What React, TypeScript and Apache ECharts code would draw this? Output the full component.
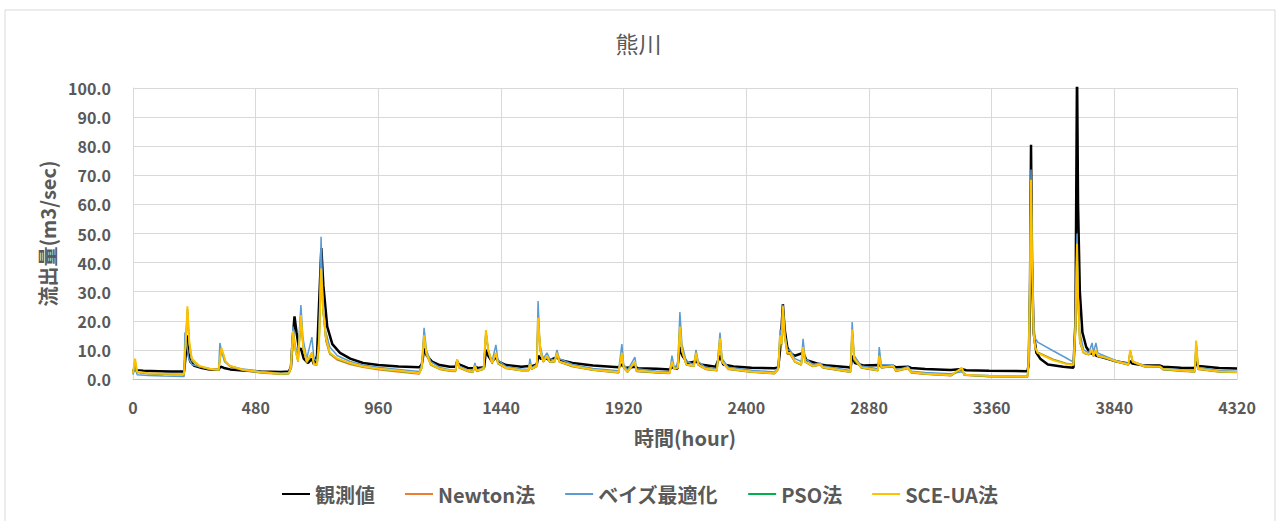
import React, { useEffect, useRef } from "react";
import * as echarts from "echarts";

const titleText = "熊川";
const xAxisName = "時間(hour)";
const yAxisName = "流出量(m3/sec)";
const seriesNames = ["観測値", "Newton法", "ベイズ最適化", "PSO法", "SCE-UA法"];
const seriesColors = ["#000000", "#ED7D31", "#5B9BD5", "#00B050", "#FFC000"];
const seriesWidths = [2.5, 1.5, 1.5, 1.5, 2];

// [hour, m3/sec]
const observed: [number, number][] = [
  [0, 2.5], [6, 3.5], [12, 3.0], [40, 2.8], [100, 2.7], [150, 2.6], [200, 2.6], [206, 8], [211, 15], [216, 9], [224, 6], [240, 4.5], [270, 3.8], [300, 3.3], [335, 3.2], [340, 4], [346, 4.2], [356, 3.8], [380, 3.3], [430, 2.9], [500, 2.6], [580, 2.4], [610, 2.6], [618, 4], [625, 14], [632, 21.5], [640, 16], [650, 10], [657, 10.5], [668, 7], [685, 5.5], [700, 7], [708, 5], [720, 8], [730, 30], [737, 45], [745, 32], [760, 18], [780, 12], [810, 9], [850, 7], [900, 5.5], [960, 4.8], [1040, 4.3], [1120, 4.0], [1130, 5], [1140, 10.5], [1150, 8], [1170, 6], [1200, 4.8], [1240, 4.2], [1262, 4.2], [1268, 6], [1276, 5], [1310, 3.8], [1336, 3.7], [1340, 4.2], [1350, 3.8], [1374, 4], [1381, 10], [1390, 8], [1405, 6], [1420, 7.5], [1430, 6], [1460, 4.8], [1520, 4.2], [1550, 4.5], [1556, 4.2], [1580, 5], [1586, 8], [1595, 7], [1620, 7], [1630, 6.5], [1659, 7.5], [1670, 6.5], [1720, 5.5], [1800, 4.6], [1900, 4.0], [1913, 5], [1925, 3.8], [1964, 4.2], [1975, 3.7], [2050, 3.5], [2100, 3.3], [2109, 4], [2130, 3.5], [2140, 11], [2150, 8], [2170, 5.5], [2203, 6], [2220, 5], [2280, 4.2], [2297, 8], [2310, 5], [2350, 4.3], [2420, 3.9], [2510, 3.7], [2525, 4], [2532, 10], [2538, 18], [2543, 25.7], [2550, 17], [2560, 11], [2571, 9], [2590, 8], [2622, 9], [2635, 6.5], [2689, 5], [2720, 4.6], [2800, 4.0], [2808, 3.8], [2814, 8], [2825, 5.5], [2860, 4.6], [2920, 4.8], [2930, 4.2], [2975, 4.5], [2985, 4.0], [3033, 4.2], [3045, 3.8], [3100, 3.4], [3200, 3.1], [3244, 3.4], [3260, 3.0], [3350, 2.8], [3500, 2.7], [3505, 5], [3510, 30], [3514, 80.5], [3518, 40], [3524, 16], [3535, 9], [3550, 7], [3580, 5], [3640, 4.2], [3680, 3.9], [3688, 20], [3694, 108], [3698, 60], [3705, 30], [3715, 16], [3730, 11], [3745, 9], [3770, 8], [3800, 7.3], [3850, 6], [3895, 5.3], [3902, 6.2], [3910, 5.3], [3960, 4.6], [4019, 4.6], [4030, 4.2], [4100, 3.9], [4155, 3.8], [4160, 6], [4168, 4.5], [4250, 3.8], [4320, 3.6]
];

const newton: [number, number][] = [
  [0, 1.8], [8, 6], [16, 2.2], [60, 1.8], [120, 1.6], [200, 1.5], [203, 8], [206, 12], [213, 23], [220, 12], [230, 6.5], [260, 4.2], [300, 3.3], [335, 3.0], [340, 6], [346, 10], [352, 8.5], [362, 5.8], [380, 4.2], [430, 3.0], [500, 2.1], [580, 1.6], [610, 1.8], [618, 3.5], [626, 15], [634, 11], [646, 6], [657, 21], [666, 10.5], [680, 5.5], [700, 9], [708, 5], [720, 4.8], [728, 11], [736, 37], [744, 23], [755, 13], [770, 8.5], [800, 6.5], [850, 5], [900, 4.0], [960, 3.2], [1040, 2.4], [1120, 1.7], [1130, 3.8], [1139, 14.5], [1148, 8.5], [1165, 4.8], [1200, 3.3], [1240, 2.7], [1262, 2.6], [1268, 6.5], [1276, 3.8], [1310, 2.6], [1330, 2.3], [1338, 4.3], [1345, 2.6], [1372, 3.3], [1381, 16], [1390, 9.5], [1405, 5.2], [1420, 8.5], [1428, 5.2], [1460, 3.6], [1520, 2.8], [1548, 2.8], [1553, 4.8], [1560, 3.3], [1580, 4.3], [1585, 20], [1594, 9.5], [1605, 5.8], [1620, 7.5], [1630, 5.8], [1650, 5.8], [1659, 8.5], [1668, 5.8], [1720, 4.2], [1800, 3.0], [1900, 2.1], [1913, 8.5], [1920, 3.8], [1935, 2.3], [1964, 5.8], [1970, 2.6], [2050, 2.1], [2100, 1.9], [2109, 5.8], [2118, 3.3], [2132, 3.8], [2140, 17], [2148, 9.5], [2165, 4.8], [2195, 4.3], [2203, 8.5], [2212, 4.8], [2240, 3.3], [2285, 2.8], [2297, 13.5], [2305, 5.8], [2330, 3.3], [2420, 2.3], [2510, 1.8], [2525, 3.3], [2532, 14.5], [2538, 11.5], [2543, 24.5], [2550, 14.5], [2560, 8.5], [2571, 8.5], [2590, 5.8], [2615, 4.8], [2622, 10.5], [2630, 5.8], [2660, 4.3], [2689, 4.8], [2700, 3.8], [2800, 2.4], [2808, 2.4], [2814, 16.5], [2822, 6.5], [2850, 3.8], [2915, 2.8], [2920, 7.5], [2928, 3.8], [2975, 4.3], [2985, 2.6], [3033, 3.6], [3045, 2.1], [3100, 1.6], [3200, 1.1], [3244, 3.5], [3252, 1.3], [3350, 0.8], [3500, 0.6], [3505, 5.5], [3510, 34], [3514, 68], [3518, 41], [3524, 15.5], [3530, 10.5], [3540, 9.2], [3600, 6.8], [3650, 5.4], [3680, 5.0], [3688, 17], [3694, 45], [3698, 27], [3705, 12.5], [3720, 8.8], [3740, 8.3], [3753, 9.5], [3758, 7.8], [3768, 9.5], [3775, 7.8], [3800, 7.3], [3850, 5.8], [3895, 4.8], [3902, 9.5], [3912, 5.8], [3960, 4.1], [4019, 4.1], [4030, 3.2], [4100, 2.7], [4155, 2.4], [4160, 12.5], [4168, 3.3], [4250, 2.4], [4320, 2.2]
];

const bayes: [number, number][] = [
  [0, 1.5], [8, 4], [16, 1.5], [60, 1.2], [120, 1.0], [200, 0.9], [203, 16], [210, 12], [218, 7], [230, 5], [260, 4.2], [300, 3.6], [335, 3.4], [340, 12.4], [348, 9], [358, 6], [380, 4.5], [430, 3.4], [500, 2.6], [580, 2.0], [610, 2.2], [618, 5], [626, 18], [634, 12], [645, 8], [657, 25.4], [665, 14], [680, 7], [700, 14.4], [708, 7], [720, 6], [728, 15], [736, 48.9], [742, 30], [752, 17], [770, 11], [800, 8], [850, 6], [900, 4.8], [960, 4.0], [1040, 3.3], [1120, 2.6], [1130, 5], [1139, 17.6], [1148, 10], [1165, 6], [1200, 4.0], [1240, 3.2], [1262, 3.0], [1268, 6.8], [1276, 4.5], [1310, 3.0], [1330, 2.8], [1338, 5.5], [1345, 3], [1372, 4], [1381, 16], [1390, 10], [1405, 6], [1420, 11.7], [1428, 6.5], [1460, 4.3], [1520, 3.4], [1548, 3.3], [1553, 7], [1560, 3.8], [1580, 5], [1585, 26.8], [1592, 12], [1605, 7], [1620, 9], [1630, 7], [1650, 6.5], [1659, 10], [1668, 7], [1720, 5.0], [1800, 3.6], [1900, 2.8], [1913, 12], [1920, 5], [1935, 3], [1964, 7.5], [1970, 3.5], [2050, 2.7], [2100, 2.5], [2109, 8], [2118, 4], [2132, 5], [2140, 23], [2148, 12], [2165, 6], [2195, 5], [2203, 10], [2212, 6], [2240, 4], [2285, 3.5], [2297, 16], [2305, 7], [2330, 4], [2420, 3.0], [2510, 2.4], [2525, 4], [2532, 17], [2538, 14], [2543, 25.5], [2550, 16], [2560, 10], [2571, 10], [2590, 7], [2615, 6], [2622, 13.8], [2630, 7], [2660, 5], [2689, 5.5], [2700, 4.5], [2800, 3.0], [2808, 3], [2814, 19.6], [2822, 8], [2850, 4.5], [2915, 3.5], [2920, 11], [2928, 5], [2975, 4.8], [2985, 3], [3033, 4.2], [3045, 2.7], [3100, 2.2], [3200, 1.8], [3244, 2.5], [3260, 1.5], [3350, 1.2], [3500, 1.0], [3505, 8], [3510, 40], [3514, 72], [3518, 45], [3524, 20], [3530, 14], [3540, 12.7], [3600, 9.7], [3650, 7.3], [3680, 5.8], [3688, 20], [3694, 50], [3698, 30], [3705, 16], [3720, 10], [3740, 9], [3753, 12.4], [3758, 9], [3768, 12.4], [3775, 9], [3800, 8], [3850, 6.2], [3895, 5.3], [3902, 9.5], [3912, 6], [3960, 4.6], [4019, 4.0], [4030, 3.6], [4100, 3.2], [4155, 3.0], [4160, 12], [4168, 4], [4250, 2.9], [4320, 2.7]
];

const pso: [number, number][] = [
  [0, 2.0], [8, 6.5], [16, 2.4], [60, 1.9], [120, 1.7], [200, 1.6], [203, 9], [206, 12], [213, 24], [220, 12.5], [230, 6.8], [260, 4.4], [300, 3.4], [335, 3.1], [340, 7], [346, 10.3], [352, 8.8], [362, 5.9], [380, 4.4], [430, 3.1], [500, 2.2], [580, 1.7], [610, 1.9], [618, 3.8], [626, 16], [634, 10.5], [646, 6], [657, 21.5], [666, 10.8], [680, 5.8], [700, 9], [708, 5], [720, 4.9], [728, 11.5], [736, 37.5], [744, 23.5], [755, 13.5], [770, 8.8], [800, 6.8], [850, 5.3], [900, 4.2], [960, 3.4], [1040, 2.7], [1120, 1.9], [1130, 3.9], [1139, 14.8], [1148, 8.8], [1165, 4.9], [1200, 3.4], [1240, 2.8], [1262, 2.7], [1268, 6.7], [1276, 3.9], [1310, 2.7], [1330, 2.4], [1338, 4.4], [1345, 2.7], [1372, 3.4], [1381, 16.5], [1390, 9.8], [1405, 5.4], [1420, 8.8], [1428, 5.4], [1460, 3.7], [1520, 2.9], [1548, 2.9], [1553, 4.9], [1560, 3.4], [1580, 4.4], [1585, 20.5], [1594, 9.8], [1605, 5.9], [1620, 7.8], [1630, 5.9], [1650, 5.9], [1659, 8.8], [1668, 5.9], [1720, 4.4], [1800, 3.1], [1900, 2.2], [1913, 8.8], [1920, 3.9], [1935, 2.4], [1964, 5.9], [1970, 2.7], [2050, 2.2], [2100, 2.0], [2109, 5.9], [2118, 3.4], [2132, 3.9], [2140, 17.5], [2148, 9.8], [2165, 4.9], [2195, 4.4], [2203, 8.8], [2212, 4.9], [2240, 3.4], [2285, 2.9], [2297, 13.8], [2305, 5.9], [2330, 3.4], [2420, 2.4], [2510, 1.9], [2525, 3.4], [2532, 14.8], [2538, 11.8], [2543, 24.8], [2550, 14.8], [2560, 8.8], [2571, 8.8], [2590, 5.9], [2615, 4.9], [2622, 10.8], [2630, 5.9], [2660, 4.4], [2689, 4.9], [2700, 3.9], [2800, 2.5], [2808, 2.5], [2814, 16.8], [2822, 6.8], [2850, 3.9], [2915, 2.9], [2920, 7.8], [2928, 3.9], [2975, 4.4], [2985, 2.7], [3033, 3.7], [3045, 2.2], [3100, 1.7], [3200, 1.2], [3244, 3.6], [3252, 1.4], [3350, 0.9], [3500, 0.7], [3505, 5.8], [3510, 34.5], [3514, 68.8], [3518, 41.5], [3524, 15.8], [3530, 10.8], [3540, 9.1], [3600, 6.6], [3650, 5.3], [3680, 4.9], [3688, 17.5], [3694, 46], [3698, 27.5], [3705, 12.8], [3720, 8.9], [3740, 8.4], [3753, 9.8], [3758, 7.9], [3768, 9.8], [3775, 7.9], [3800, 7.4], [3850, 5.9], [3895, 4.9], [3902, 9.8], [3912, 5.9], [3960, 4.2], [4019, 4.2], [4030, 3.3], [4100, 2.8], [4155, 2.5], [4160, 12.8], [4168, 3.4], [4250, 2.5], [4320, 2.3]
];

const sceua: [number, number][] = [
  [0, 2.0], [8, 7], [16, 2.5], [60, 2.0], [120, 1.8], [200, 1.7], [203, 9], [206, 12], [213, 25], [220, 13], [230, 7], [260, 4.5], [300, 3.5], [335, 3.2], [340, 7], [346, 10.6], [352, 9], [362, 6], [380, 4.5], [430, 3.2], [500, 2.3], [580, 1.8], [610, 2.0], [618, 4], [626, 16.5], [634, 10.5], [646, 6], [657, 22], [666, 11], [680, 6], [700, 9], [708, 5], [720, 5], [728, 12], [736, 38], [744, 24], [755, 14], [770, 9], [800, 7], [850, 5.5], [900, 4.3], [960, 3.5], [1040, 2.8], [1120, 2.0], [1130, 4], [1139, 15], [1148, 9], [1165, 5], [1200, 3.5], [1240, 2.9], [1262, 2.8], [1268, 6.8], [1276, 4], [1310, 2.8], [1330, 2.5], [1338, 4.5], [1345, 2.8], [1372, 3.5], [1381, 16.8], [1390, 10], [1405, 5.5], [1420, 9], [1428, 5.5], [1460, 3.8], [1520, 3.0], [1548, 3.0], [1553, 5], [1560, 3.5], [1580, 4.5], [1585, 21], [1594, 10], [1605, 6], [1620, 8], [1630, 6], [1650, 6], [1659, 9], [1668, 6], [1720, 4.5], [1800, 3.2], [1900, 2.3], [1913, 9], [1920, 4], [1935, 2.5], [1964, 6], [1970, 2.8], [2050, 2.3], [2100, 2.1], [2109, 6], [2118, 3.5], [2132, 4], [2140, 18], [2148, 10], [2165, 5], [2195, 4.5], [2203, 9], [2212, 5], [2240, 3.5], [2285, 3.0], [2297, 14], [2305, 6], [2330, 3.5], [2420, 2.5], [2510, 2.0], [2525, 3.5], [2532, 15], [2538, 12], [2543, 25], [2550, 15], [2560, 9], [2571, 9], [2590, 6], [2615, 5], [2622, 11], [2630, 6], [2660, 4.5], [2689, 5], [2700, 4], [2800, 2.6], [2808, 2.6], [2814, 17], [2822, 7], [2850, 4], [2915, 3.0], [2920, 8], [2928, 4], [2975, 4.5], [2985, 2.8], [3033, 3.8], [3045, 2.3], [3100, 1.8], [3200, 1.3], [3244, 3.8], [3252, 1.5], [3350, 1.0], [3500, 0.8], [3505, 6], [3510, 35], [3514, 68.5], [3518, 42], [3524, 16], [3530, 11], [3540, 9], [3600, 6.5], [3650, 5.2], [3680, 4.8], [3688, 18], [3694, 46.5], [3698, 28], [3705, 13], [3720, 9], [3740, 8.5], [3753, 10], [3758, 8], [3768, 10], [3775, 8], [3800, 7.5], [3850, 6], [3895, 5], [3902, 10], [3912, 6], [3960, 4.3], [4019, 4.3], [4030, 3.4], [4100, 2.9], [4155, 2.6], [4160, 13.2], [4168, 3.5], [4250, 2.6], [4320, 2.4]
];

const seriesData = [observed, newton, bayes, pso, sceua];

const xMin = 0;
const xMax = 4320;
const xInterval = 480;
const yMin = 0;
const yMax = 100;
const yInterval = 10;

const FONT = "'Noto Sans CJK JP', 'Noto Sans', sans-serif";
const TEXT = "#595959";

export default function App() {
  const ref = useRef<HTMLDivElement>(null);
  useEffect(() => {
    if (!ref.current) return;
    const chart = echarts.init(ref.current, undefined, { renderer: "svg" });
    chart.setOption({
      animation: false,
      backgroundColor: "#ffffff",
      textStyle: { fontFamily: FONT },
      title: {
        text: titleText,
        left: "center",
        top: 26,
        textStyle: { fontFamily: FONT, fontSize: 23, fontWeight: "normal", color: TEXT },
      },
      graphic: [
        {
          type: "rect",
          shape: { x: 5, y: 10, width: 1270, height: 530 },
          style: { fill: "none", stroke: "#D9D9D9", lineWidth: 1 },
          silent: true,
          z: -1,
        },
      ],
      legend: {
        data: seriesNames,
        left: 277,
        top: 479,
        icon: "rect",
        itemWidth: 28,
        itemHeight: 2,
        itemGap: 30,
        textStyle: { fontFamily: FONT, fontSize: 20, fontWeight: "bold", color: TEXT },
      },
      grid: { left: 133, right: 40, top: 88, bottom: 142, containLabel: false },
      xAxis: {
        type: "value",
        min: xMin,
        max: xMax,
        interval: xInterval,
        name: xAxisName,
        nameLocation: "middle",
        nameGap: 48,
        nameTextStyle: { fontFamily: FONT, fontSize: 20, fontWeight: "bold", color: TEXT },
        axisLine: { show: true, lineStyle: { color: "#BFBFBF", width: 1 } },
        axisTick: { show: false },
        axisLabel: {
          margin: 20,
          fontFamily: FONT,
          fontSize: 16,
          fontWeight: "bold",
          color: TEXT,
          formatter: (v: number) => String(v),
        },
        splitLine: { show: true, lineStyle: { color: "#D9D9D9", width: 1 } },
      },
      yAxis: {
        type: "value",
        min: yMin,
        max: yMax,
        interval: yInterval,
        name: yAxisName,
        nameLocation: "middle",
        nameGap: 76,
        nameRotate: 90,
        nameTextStyle: { fontFamily: FONT, fontSize: 20, fontWeight: "bold", color: TEXT },
        axisLine: { show: true, lineStyle: { color: "#D9D9D9", width: 1 } },
        axisTick: { show: false },
        axisLabel: {
          margin: 22,
          fontFamily: FONT,
          fontSize: 16,
          fontWeight: "bold",
          color: TEXT,
          formatter: (v: number) => v.toFixed(1),
        },
        splitLine: { show: true, lineStyle: { color: "#D9D9D9", width: 1 } },
      },
      series: seriesNames.map((name, i) => ({
        name,
        type: "line",
        data: seriesData[i],
        showSymbol: false,
        symbol: "none",
        clip: true,
        color: seriesColors[i],
        lineStyle: { color: seriesColors[i], width: seriesWidths[i] },
        z: 2 + i,
      })),
    });
    return () => chart.dispose();
  }, []);
  return (
    <div
      ref={ref}
      style={{ position: "absolute", left: 0, top: 0, width: 1277, height: 521 }}
    />
  );
}
